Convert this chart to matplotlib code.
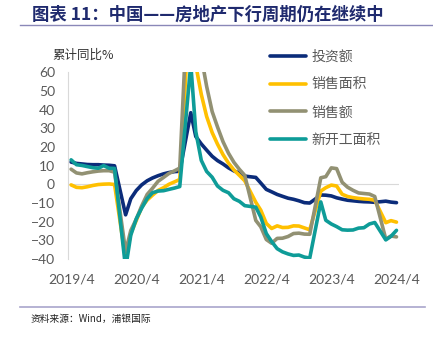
import pandas as pd
import matplotlib
matplotlib.use("Agg")
from matplotlib import pyplot as plt
import matplotlib.dates as mdates
from datetime import datetime

# monthly, January is not published (Jan-Feb combined)
months = [d for d in pd.date_range("2019-04-01", "2024-04-01", freq="MS") if d.month != 1]

invest = [11.9, 11.2, 10.9, 10.6, 10.5, 10.5, 10.3, 10.2, 9.9,
          -16.3, -7.7, -3.3, -0.3, 1.9, 3.4, 4.6, 5.6, 6.3, 6.8, 7.0,
          38.3, 25.6, 21.6, 18.3, 15.0, 12.7, 10.9, 8.8, 7.2, 6.0, 4.4,
          3.7, 0.7, -2.7, -4.0, -5.4, -6.4, -7.4, -8.0, -8.8, -9.8, -10.0,
          -5.7, -5.8, -6.2, -7.2, -7.9, -8.5, -8.8, -9.1, -9.3, -9.4, -9.6,
          -9.0, -9.5, -9.8]
sales_area = [-0.3, -1.6, -1.8, -1.3, -0.6, -0.1, 0.1, 0.2, -0.1,
              -39.9, -26.3, -19.3, -12.3, -8.4, -5.8, -3.3, -1.8, 0.0, 1.3, 2.6,
              104.9, 63.8, 48.1, 36.3, 27.7, 21.5, 15.9, 11.3, 7.7, 4.8, 1.9,
              -9.6, -13.8, -20.9, -23.6, -22.2, -23.1, -23.0, -22.2, -22.3, -23.3, -24.3,
              -3.6, -1.8, -0.4, -0.9, -5.3, -6.5, -7.1, -7.5, -7.8, -8.0, -8.5,
              -20.5, -19.4, -20.2]
sales_value = [8.1, 6.1, 5.6, 6.2, 6.7, 7.1, 7.3, 7.3, 6.5,
               -35.9, -24.7, -18.6, -11.6, -5.4, -2.1, 1.6, 3.7, 5.8, 7.2, 8.7,
               133.4, 88.5, 68.2, 52.4, 38.9, 30.7, 22.8, 16.6, 11.8, 8.0, 4.8,
               -19.3, -22.7, -29.5, -31.5, -28.9, -28.8, -27.9, -26.3, -26.1, -26.6, -26.7,
               3.5, 4.1, 8.8, 8.4, 1.1, -1.5, -3.2, -4.6, -4.9, -5.2, -6.5,
               -29.3, -27.6, -28.1]
new_starts = [13.1, 10.5, 10.1, 9.5, 8.9, 8.6, 10.0, 8.6, 8.5,
              -44.9, -27.2, -18.4, -12.8, -7.6, -4.5, -3.6, -3.4, -2.7, -2.0, -1.2,
              64.3, 28.2, 12.8, 6.9, 3.8, -0.9, -3.2, -4.5, -7.7, -9.1, -11.4,
              -12.2, -17.5, -26.3, -30.6, -34.4, -36.1, -37.2, -38.0, -37.8, -38.9, -39.4,
              -9.4, -19.2, -21.2, -22.6, -24.3, -24.5, -24.4, -23.4, -23.2, -21.2, -20.4,
              -29.7, -27.8, -24.6]

series = [("投资额", invest, "#0B2C7A"),
          ("销售面积", sales_area, "#FFC000"),
          ("销售额", sales_value, "#929173"),
          ("新开工面积", new_starts, "#0E9C98")]

tick_dates = [datetime(y, 4, 1) for y in range(2019, 2025)]

plt.rcParams["font.family"] = ["Noto Sans CJK SC", "DejaVu Sans"]

fig = plt.figure(figsize=(4.33, 3.37), dpi=100)
ax = fig.add_axes([0.156, 0.231, 0.765, 0.555])

for name, vals, col in series:
    ax.plot(months, vals, color=col, lw=2.6, label=name, solid_capstyle="round")

ax.axhline(0, color="#D9D9D9", lw=0.8, zorder=0)
ax.set_ylim(-40, 60)
ax.set_yticks(range(-40, 61, 10))
ax.set_xlim(datetime(2019, 3, 12), datetime(2024, 4, 14))
ax.set_xticks(tick_dates)
ax.xaxis.set_major_formatter(mdates.DateFormatter("%Y/%-m"))

for s in ["top", "right", "bottom"]:
    ax.spines[s].set_visible(False)
ax.spines["left"].set_color("#D9D9D9")
ax.tick_params(axis="both", length=0, colors="#595959", labelsize=10)
ax.tick_params(axis="y", pad=9)
ax.tick_params(axis="x", pad=10)
for lab in ax.get_xticklabels() + ax.get_yticklabels():
    lab.set_fontfamily(["Lato", "DejaVu Sans"])

leg = fig.legend(loc="upper left", bbox_to_anchor=(0.595, 0.89), frameon=False,
                 handlelength=2.6, handletextpad=0.35, labelspacing=1.0,
                 fontsize=10, labelcolor="#595959")

fig.text(0.122, 0.825, "累计同比%", fontsize=9, color="#333333")

fig.text(0.074, 0.955, "图表 11：中国——房地产下行周期仍在继续中", fontsize=12.5,
         color="#1F2A6E", fontweight="bold", va="center")
fig.add_artist(plt.Line2D([0.046, 1.0], [0.925, 0.925], color="#8A88B8", lw=1.0))
fig.add_artist(plt.Line2D([0.046, 0.982], [0.089, 0.089], color="#A9A5CC", lw=1.2))
fig.text(0.07, 0.045, "资料来源：Wind，浦银国际", fontsize=7, color="#222222")

fig.savefig("out.png", dpi=100)
